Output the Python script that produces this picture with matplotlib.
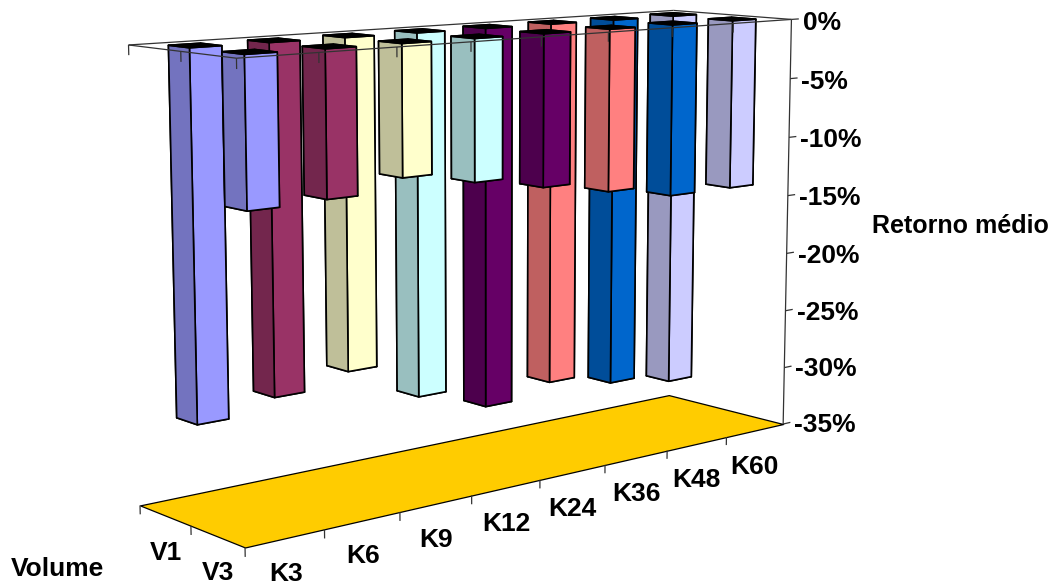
import numpy as np
import matplotlib
matplotlib.use("Agg")
import matplotlib.pyplot as plt
from matplotlib.transforms import Affine2D
from mpl_toolkits.mplot3d import proj3d
from mpl_toolkits.mplot3d.art3d import Poly3DCollection, Line3DCollection

kategorias = ['K3', 'K6', 'K9', 'K12', 'K24', 'K36', 'K48', 'K60']
volumes = ['V1', 'V3']
ret_v1 = [-28.1, -27.1, -26.1, -29.2, -31.1, -30.1, -31.2, -32.1]
ret_v3 = [-11.15, -11.0, -10.05, -11.05, -12.1, -13.1, -14.1, -14.1]
cores = ['#9999FF', '#993366', '#FFFFCC', '#CCFFFF', '#660066', '#FF8080', '#0066CC', '#CCCCFF']
y_ticks = [0, -5, -10, -15, -20, -25, -30, -35]

plt.rcParams['font.family'] = ['Liberation Sans', 'DejaVu Sans']

# camera: box corners (k, v, z) and where they land on the picture
n_k = len(kategorias)
n_v = len(volumes)
z_min = y_ticks[-1]
box = [(0, 0, 0), (0, n_v, 0), (n_k, n_v, 0), (n_k, 0, 0),
       (0, 0, z_min), (0, n_v, z_min), (n_k, n_v, z_min), (n_k, 0, z_min)]
tela = [(129, 45), (236, 58), (792, 20), (673, 10),
        (140, 506), (245, 547), (783, 424), (669, 395)]

A = []
b = []
for (X, Y, Z), (px, py) in zip(box, tela):
    A.append([X, Y, Z, 1, 0, 0, 0, 0, -px * X, -px * Y, -px * Z])
    A.append([0, 0, 0, 0, X, Y, Z, 1, -py * X, -py * Y, -py * Z])
    b += [px, py]
p = np.linalg.lstsq(np.array(A, float), np.array(b, float), rcond=None)[0]
M = np.array([[p[0], p[1], p[2], p[3]],
              [p[4], p[5], p[6], p[7]],
              [0.01, -0.01, -0.0005, 0.0],
              [p[8], p[9], p[10], 1.0]])

fig = plt.figure(figsize=(10.55, 5.85), dpi=100)
ax = fig.add_axes([0, 0, 1, 1], projection='3d', computed_zorder=False)
ax.get_proj = lambda: M
ax.apply_aspect = lambda position=None: None
ax.transData = Affine2D().scale(1, -1).translate(0, 585)
ax.set_xticks([])
ax.set_yticks([])
ax.set_zticks([])
ax.set_axis_off()
ax.patch.set_visible(False)

# floor
chao = [[(0, 0, z_min), (0, n_v, z_min), (n_k, n_v, z_min), (n_k, 0, z_min)]]
ax.add_collection3d(Poly3DCollection(chao, facecolors='#FFCC00', edgecolors='k',
                                     linewidths=0.9, zorder=1))


def escurece(cor):
    return tuple(0.75 * c for c in matplotlib.colors.to_rgb(cor))


def rotulo(x, y, z, s, **kw):
    # plain 2D text at the projected spot
    tx, ty, _ = proj3d.proj_transform(x, y, z, M)
    ax.text2D(tx, ty, s, transform=ax.transData, fontsize=19, fontweight='bold',
              va='center', zorder=51, **kw)


# bars, back row first, far categories first
largura = 0.4
ordem = 2
for j, valores in enumerate([ret_v1, ret_v3]):
    for i in range(n_k - 1, -1, -1):
        c = cores[i]
        faces = [c, 'k', c, c, escurece(c), c]
        ax.bar3d(i + 0.3, j + 0.3, valores[i], largura, largura, -valores[i],
                 color=faces, edgecolor='k', linewidth=1.2, shade=False, zorder=ordem)
        ordem += 1

# top plane outline, value axis and ticks
cinza = '#333333'
linhas = [[(0, 0, 0), (0, n_v, 0)], [(0, n_v, 0), (n_k, n_v, 0)],
          [(n_k, n_v, 0), (n_k, 0, 0)], [(n_k, 0, 0), (0, 0, 0)],
          [(n_k, n_v, 0), (n_k, n_v, z_min)]]
for t in y_ticks:
    linhas.append([(n_k, n_v, t), (n_k + 0.13, n_v, t)])
for z, dz in [(z_min, -0.7), (0, -0.75)]:
    for i in range(n_k):
        linhas.append([(i, n_v, z), (i, n_v, z + dz)])
    for j in range(n_v):
        linhas.append([(0, j, z), (0, j, z + dz)])
ax.add_collection3d(Line3DCollection(linhas, colors=cinza, linewidths=0.9, zorder=50))

for t in y_ticks:
    rotulo(n_k + 0.2, n_v, t - 0.35, '%d%%' % t, ha='left')
for i, nome in enumerate(kategorias):
    rotulo(i + 0.5, n_v, z_min - 2.68 - 0.08 * i, nome, ha='center')
for j, nome in enumerate(volumes):
    rotulo(0, j + 0.5, z_min - 2.95 + 0.2 * j, nome, ha='center')

fig.text(960 / 1055, 1 - 226 / 585, 'Retorno médio', fontsize=18, fontweight='bold',
         ha='center', va='center')
fig.text(57 / 1055, 1 - 569 / 585, 'Volume', fontsize=19, fontweight='bold',
         ha='center', va='center')

fig.savefig('out.png', dpi=100)
